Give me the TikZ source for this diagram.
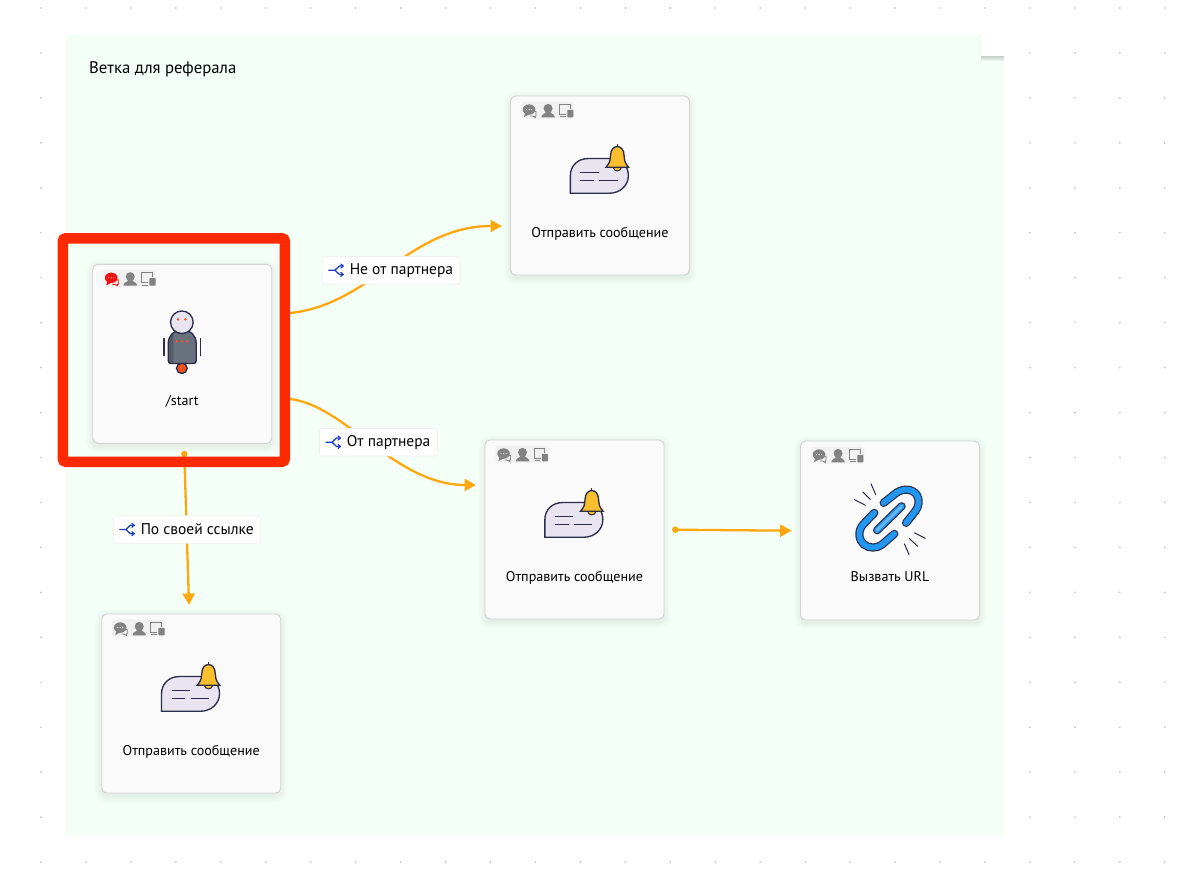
\documentclass[tikz,border=0pt]{standalone}
\usepackage{fontspec}
\setmainfont{PT Sans}
\usetikzlibrary{arrows.meta,calc,shapes.misc}
\definecolor{panelgreen}{HTML}{F4FFF7}
\definecolor{dotgray}{HTML}{C2C2C2}
\definecolor{cardfill}{HTML}{FAFAFA}
\definecolor{cardline}{HTML}{D2D2D2}
\definecolor{chipfill}{HTML}{F1F1F1}
\definecolor{iconline}{HTML}{2B2D4A}
\definecolor{lilac}{HTML}{E9E5F0}
\definecolor{bellyellow}{HTML}{FBBF2D}
\definecolor{edgeorange}{HTML}{FFA70F}
\definecolor{selred}{HTML}{FF2A00}
\definecolor{branchblue}{HTML}{1C3CC8}
\definecolor{chipgray}{HTML}{828282}
\definecolor{chipred}{HTML}{EE1111}
\definecolor{robotgray}{HTML}{68717D}
\definecolor{robotdark}{HTML}{545C68}
\definecolor{robotorange}{HTML}{F4511E}
\definecolor{linkblue}{HTML}{2196F3}
\definecolor{linklight}{HTML}{64B5F6}
\tikzset{
  card/.style={draw=cardline,fill=cardfill,line width=0.9pt,rounded corners=5pt,minimum size=179pt,inner sep=0pt},
  cardlabel/.style={font=\fontsize{14.1}{16}\selectfont,text=black,inner sep=0pt,text height=11.5pt,text depth=1.5pt},
  edgelabel/.style={draw=black!6,fill=white,line width=0.8pt,rounded corners=3pt,font=\fontsize{15.5}{18}\selectfont,text=black,inner xsep=7pt,inner ysep=0pt,minimum height=27.5pt,text height=11.5pt,text depth=2pt},
  flow/.style={draw=edgeorange,line width=2.3pt,-{Triangle[length=11.5pt,width=12pt]}},
  portdot/.style={circle,fill=edgeorange,inner sep=0pt,minimum size=6.5pt},
  ink/.style={draw=iconline,line width=1.35pt},
  cardshadow/.pic={
    \foreach \s in {0,1,...,7}
      \fill[black,opacity=0.009,rounded corners={5pt+\s*1pt}]
        ({-89.5-\s},{-89.5-\s+2}) rectangle ({89.5+\s},{89.5+\s+3});
  },
  chips/.pic={
    \fill[chipfill,rounded corners=3pt] (11,6) rectangle (64,23);
    \fill[#1] (19,14) ellipse [x radius=6.3,y radius=5.2];
    \fill[#1] (15,17) -- (14,21.5) -- (20,18.5) -- cycle;
    \fill[white] (16.5,14) circle (0.6) (19,14) circle (0.6) (21.5,14) circle (0.6);
    \draw[#1,line width=0.8pt] (24.5,16) -- (26,16) -- (26,20.5) -- (25,20.5) -- (25.4,22) -- (22.5,20.5) -- (20,20.5);
    \fill[chipgray] (38,12.8) circle (4.5);
    \fill[chipgray] (31.3,21.7) .. controls (31.3,18) and (35.5,18.5) .. (36,16) -- (40,16) .. controls (40.5,18.5) and (44.7,18) .. (44.7,21.7) -- cycle;
    \draw[chipgray,line width=0.8pt] (60,13) -- (60,8.8) -- (49.5,8.8) -- (49.5,18.5) -- (56,18.5);
    \draw[chipgray,line width=0.9pt] (50,21.2) -- (55.5,21.2);
    \fill[chipgray,rounded corners=0.7pt] (57.2,14.2) rectangle (63.3,21.7);
  },
  sendicon/.pic={
    \draw[ink,fill=lilac] (60.3,97.7) -- (60.3,80) .. controls (60.3,70) and (68,63) .. (78,63)
      -- (104,63) .. controls (113,63.5) and (118.3,72) .. (118.3,80)
      .. controls (118.3,90) and (110,97.7) .. (99,97.7) -- cycle;
    \draw[ink,line width=1.1pt] (70.3,77.3) -- (88.6,77.3) (70.3,85) -- (84,85) (89.3,85) -- (107.6,85);
    \draw[ink,fill=bellyellow,line width=1pt] (103,71.7) .. controls (104,76.5) and (110.5,76.5) .. (111.5,71.7) -- cycle;
    \draw[ink,line width=1pt] (107.2,51.8) -- (107.2,48.3);
    \draw[ink,fill=bellyellow] (96,71.7) .. controls (100,67) and (100.5,64) .. (100.5,60)
      .. controls (100.5,48) and (114,48) .. (114,60)
      .. controls (114,64) and (114.5,67) .. (118.5,71.7) -- cycle;
  },
  roboticon/.pic={
    \draw[ink,line width=1.5pt,line cap=round] (71.6,74.7) -- (71.6,91.7) (108,74.7) -- (108,91.7);
    \draw[ink,fill=robotorange] (89.6,104.4) circle (5.3);
    \fill[robotgray] (76,96.7) -- (76,79.7) .. controls (76,71.7) and (82,65.7) .. (90,65.7)
      .. controls (98,65.7) and (104,71.7) .. (104,79.7) -- (104,96.7) .. controls (104,98.7) and (103,99.7) .. (101,99.7)
      -- (79,99.7) .. controls (77,99.7) and (76,98.7) .. (76,96.7) -- cycle;
    \fill[robotdark] (76,96.7) -- (76,79.7) .. controls (76,75) and (78,71.5) .. (81,69) -- (81,99.7) -- (79,99.7) .. controls (77,99.7) and (76,98.7) .. (76,96.7) -- cycle;
    \draw[ink] (76,96.7) -- (76,79.7) .. controls (76,71.7) and (82,65.7) .. (90,65.7)
      .. controls (98,65.7) and (104,71.7) .. (104,79.7) -- (104,96.7) .. controls (104,98.7) and (103,99.7) .. (101,99.7)
      -- (79,99.7) .. controls (77,99.7) and (76,98.7) .. (76,96.7) -- cycle;
    \draw[ink,fill=lilac] (89.6,58.4) circle (11.3);
    \fill[robotorange] (85.8,55.5) circle (1.4) (93.2,55.5) circle (1.4)
      (84.3,77.4) circle (1.4) (89.6,77.4) circle (1.4) (95,77.4) circle (1.4);
  },
  linkicon/.pic={
    \def\clipA{(83.6,62.3) -- (96,52.5) .. controls (103,47.5) and (112,48) .. (116.5,54) .. controls (120,59) and (119,66) .. (115,71) -- (106,82.3)}
    \def\clipB{(74.3,72.3) -- (63,84) .. controls (57,91) and (59,100) .. (64,104) .. controls (69,108) and (77,108) .. (82,104) -- (94.3,93.3)}
    \foreach \w/\c in {8.2/iconline,5.8/linkblue}{
      \draw[\c,line width=\w pt,line cap=round] \clipA;
      \draw[\c,line width=\w pt,line cap=round] \clipB;
      \draw[\c,line width=\w pt,line cap=round] (77,89.7) -- (101.6,65.7);
    }
    \draw[linklight,line width=3pt,line cap=round] (77,89.7) -- (101.6,65.7);
    \draw[iconline,line width=1pt,line cap=round]
      (71,43.3) -- (75.6,54) (62.6,51.3) -- (70.3,59) (54.3,59) -- (65.3,64.7)
      (114.3,92.3) -- (125.3,97.7) (109.3,98) -- (117.6,105.7) (104.3,103.3) -- (109,114);
  },
  branchicon/.pic={
    \draw[branchblue,line width=1.3pt,line cap=round] (0,0) -- (6,0) -- (10.5,-4.2) -- (14,-4.2) (6,0) -- (10.5,4.2) -- (14,4.2);
    \draw[branchblue,line width=1.2pt,line cap=round,line join=round] (12,-6.2) -- (14.4,-4.2) -- (12,-2.2) (12,2.2) -- (14.4,4.2) -- (12,6.2);
  }
}
\begin{document}
\begin{tikzpicture}[x=1pt,y=-1pt]
\useasboundingbox (0,0) rectangle (1199,879);
\fill[white] (0,0) rectangle (1199,879);
% dotted canvas
\foreach \i in {0,...,25}
  \foreach \j in {0,...,19}
    \fill[dotgray] ({41+44.95*\i},{8+44.95*\j}) circle (0.95);
% group panel
\node[fill=panelgreen,inner sep=0pt,minimum width=938pt,minimum height=802pt] (panel) at (534.5,435) {};
\node[anchor=base west,inner sep=0pt,font=\fontsize{16.7}{18}\selectfont] (title) at (89,73.5) {Ветка для реферала};
% folded corner
\foreach \s in {1,...,6}
  \fill[black,opacity=0.04] (981,55) rectangle (1003.5,{55+\s});
\foreach \s in {0,1,2}
  \fill[black,opacity=0.012] ({980.5-\s},34) rectangle (981,56);
\fill[white] (981,34) rectangle (1003.7,55.6);
% cards
\pic at (182.2,353.8) {cardshadow};
\pic at (600,185.5) {cardshadow};
\pic at (574.5,529.5) {cardshadow};
\pic at (890,530.5) {cardshadow};
\pic at (191.2,703.5) {cardshadow};
\node[card] (c1) at (182.2,353.8) {};
\node[card] (c2) at (600,185.5) {};
\node[card] (c3) at (574.5,529.5) {};
\node[card] (c4) at (890,530.5) {};
\node[card] (c5) at (191.2,703.5) {};
\pic at (c1.north west) {chips=chipred};
\pic at (c2.north west) {chips=chipgray};
\pic at (c3.north west) {chips=chipgray};
\pic at (c4.north west) {chips=chipgray};
\pic at (c5.north west) {chips=chipgray};
\pic at (c1.north west) {roboticon};
\pic at (c2.north west) {sendicon};
\pic at (c3.north west) {sendicon};
\pic at (c5.north west) {sendicon};
\pic at (c4.north west) {linkicon};
\node[cardlabel] (t1) at ($(c1.north)+(0,137)$) {/start};
\node[cardlabel] (t2) at ($(c2.north)+(0,137)$) {Отправить сообщение};
\node[cardlabel] (t3) at ($(c3.north)+(0,137)$) {Отправить сообщение};
\node[cardlabel] (t4) at ($(c4.north)+(0,136)$) {Вызвать URL};
\node[cardlabel] (t5) at ($(c5.north)+(0,137)$) {Отправить сообщение};
% connector ends
\node[portdot] (p3) at (184.3,454) {};
\node[portdot] (p4) at (675.3,529.7) {};
\coordinate (s1) at (290,313);
\coordinate (s2) at (290,399);
\coordinate (e1) at (502,226);
\coordinate (e2) at (476,485);
\coordinate (e3) at (189,605);
\coordinate (e4) at (791.7,530.7);
% connectors
\draw[flow] (s1) .. controls (370,305) and (410,226) .. (e1);
\draw[flow] (s2) .. controls (345,405) and (395,485) .. (e2);
\draw[flow] (p3.center) -- (e3);
\draw[flow] (p4.center) -- (e4);
% selection frame
\node[draw=selred,line width=10.5pt,rounded corners=3pt,inner sep=0pt,minimum width=222pt,minimum height=223.5pt] (sel) at (173.8,350) {};
% edge labels
\node[edgelabel] (l1) at (391.2,270.2) {\hspace*{20.5pt}Не от партнера};
\node[edgelabel] (l2) at (378.4,442.2) {\hspace*{20.5pt}От партнера};
\node[edgelabel] (l3) at (187,529.5) {\hspace*{20.5pt}По своей ссылке};
\pic at ($(l1.west)+(7,0)$) {branchicon};
\pic at ($(l2.west)+(7,0)$) {branchicon};
\pic at ($(l3.west)+(7,0)$) {branchicon};
\end{tikzpicture}
\end{document}
